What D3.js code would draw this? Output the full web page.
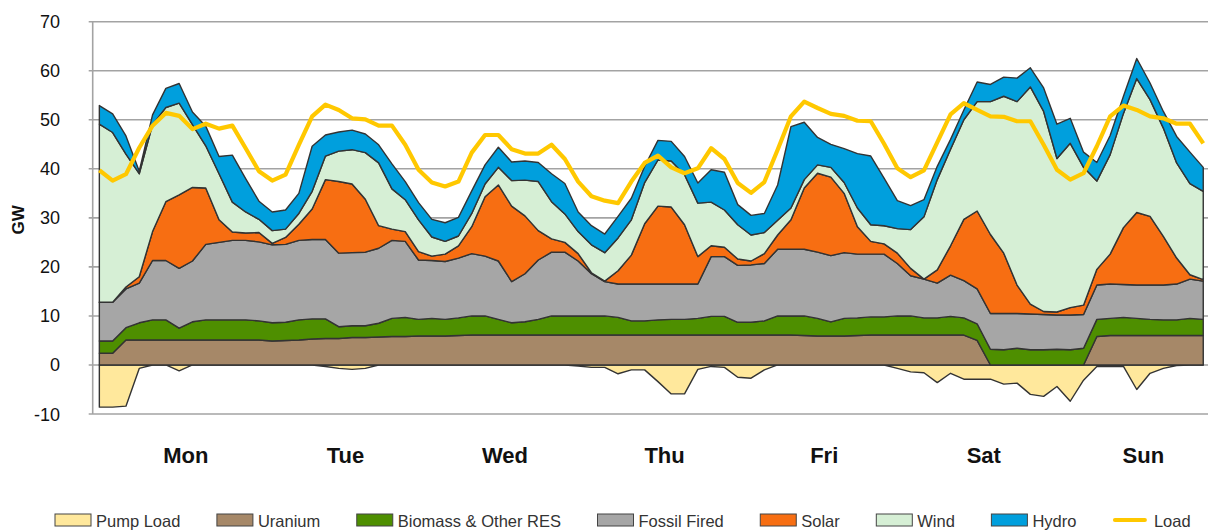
<!DOCTYPE html>
<html><head><meta charset="utf-8">
<script src="https://cdn.jsdelivr.net/npm/d3@7"></script>
<style>body{margin:0;background:#fff}svg{display:block}</style>
</head><body><svg id="c" width="1208" height="530"></svg>
<script>
// ---- data (GW, 2-hour steps, Mon..Sun) ----
const days = ["Mon","Tue","Wed","Thu","Fri","Sat","Sun"];
const yTicks = [-10,0,10,20,30,40,50,60,70];
const pumpLoad = [-8.6,-8.6,-8.4,-0.7,0,0,-1.2,0,0,0,
  0,0,0,0,0,0,0,-0.3,-0.7,-0.9,
  -0.7,0,0,0,0,0,0,0,0,0,
  0,0,0,0,0,0,-0.2,-0.5,-0.5,-1.8,
  -1.0,-1.0,-3.4,-5.9,-5.9,-0.9,-0.3,-0.5,-2.5,-2.7,
  -1.0,0,0,0,0,0,0,0,0,0,
  -0.7,-1.4,-1.6,-3.6,-1.7,-2.9,-2.9,-2.9,-3.9,-3.7,
  -6.0,-6.4,-4.4,-7.4,-3.1,-0.3,-0.3,-0.3,-5.0,-1.7,
  -0.7,-0.1,0,0];
const uranium = [2.4,2.4,5.1,5.1,5.1,5.1,5.1,5.1,5.1,5.1,
  5.1,5.1,5.1,4.9,5.0,5.1,5.3,5.4,5.4,5.6,
  5.6,5.7,5.8,5.8,5.9,5.9,5.9,6.0,6.1,6.1,
  6.1,6.1,6.1,6.1,6.1,6.1,6.1,6.1,6.1,6.1,
  6.1,6.1,6.1,6.1,6.1,6.1,6.1,6.1,6.1,6.1,
  6.1,6.1,6.1,6.0,5.9,5.9,5.9,6.0,6.1,6.1,
  6.1,6.1,6.1,6.1,6.1,6.1,5.0,0,0,0,
  0,0,0,0,0,5.8,6.0,6.0,6.0,6.0,
  6.0,6.0,6.0,6.0];
const biomass = [2.5,2.5,2.5,3.5,4.1,4.1,2.4,3.7,4.1,4.1,
  4.1,4.1,3.9,3.7,3.7,4.1,4.1,4.0,2.4,2.4,
  2.4,2.8,3.7,3.9,3.4,3.6,3.4,3.6,3.9,3.9,
  3.2,2.5,2.7,3.2,3.9,3.9,3.9,3.9,3.9,3.6,
  2.9,2.9,3.1,3.2,3.2,3.4,3.8,3.8,2.6,2.6,
  2.9,3.9,3.9,4.0,3.6,2.9,3.6,3.6,3.7,3.7,
  3.9,3.9,3.5,3.5,3.8,3.5,3.4,3.2,3.1,3.4,
  3.1,3.1,3.2,3.1,3.4,3.5,3.5,3.7,3.5,3.3,
  3.2,3.2,3.5,3.3];
const fossil = [7.9,7.9,7.9,8.1,12.1,12.1,12.2,12.4,15.4,15.8,
  16.2,16.2,16.1,15.9,15.9,16.2,16.2,16.2,15.0,14.9,
  15.0,15.3,15.9,15.5,12.1,11.8,11.8,12.2,12.7,12.2,
  11.9,8.4,9.8,12.1,13.0,13.0,11.2,8.6,7.0,6.8,
  7.5,7.5,7.3,7.2,7.2,7.0,12.2,12.2,11.6,11.7,
  11.7,13.6,13.6,13.6,13.5,13.5,13.4,13.0,12.8,12.8,
  10.7,8.2,7.9,7.1,8.4,7.6,7.1,7.3,7.4,7.1,
  7.3,7.2,7.0,7.1,6.9,7.0,7.0,6.7,6.8,7.0,
  7.1,7.3,8.0,7.8];
const solar = [0,0,0.4,1.3,5.9,12.0,15.0,15.0,11.5,4.6,
  1.7,1.5,1.9,0.3,1.4,3.3,6.2,12.2,14.6,14.0,
  10.8,4.6,2.3,2.0,1.7,0.9,1.5,2.5,5.5,12.1,
  15.5,15.4,11.8,6.0,2.7,2.0,1.5,0.2,0.1,2.7,
  5.9,12.3,15.9,15.7,12.1,5.6,2.2,1.9,1.3,0.8,
  2.0,2.9,6.0,12.5,16.1,16.0,12.1,5.6,2.6,2.1,
  2.1,1.5,0,2.7,6.0,12.5,15.9,16.1,12.3,5.8,
  2.0,0.6,0.6,1.5,1.9,3.2,6.1,11.6,14.8,14.0,
  9.9,5.3,0.9,0.3];
const wind = [36.3,34.6,27.1,21.0,21.8,19.2,18.7,12.8,8.6,9.4,
  6.1,4.3,2.7,2.6,1.7,2.2,3.6,4.8,6.2,7.0,
  9.5,12.8,8.2,6.5,6.5,3.9,2.6,2.0,2.7,2.6,
  3.6,5.2,7.3,10.0,7.6,5.8,4.5,5.7,5.8,6.7,
  7.2,8.4,9.4,9.4,10.2,10.9,8.9,7.6,7.0,5.3,
  4.3,3.0,2.4,1.7,1.7,2.0,2.2,3.8,3.4,3.7,
  5.0,7.9,12.7,18.4,19.7,20.3,22.3,27.1,32.0,37.4,
  44.3,40.8,31.3,33.5,28.1,18.0,20.3,23.3,27.3,23.8,
  22.1,19.4,18.6,18.0];
const hydro = [3.8,3.8,3.7,0.5,2.0,3.9,4.0,2.6,4.0,3.5,
  9.6,6.8,3.7,3.8,3.9,4.1,9.2,4.3,3.9,4.0,
  3.8,3.7,5.1,3.7,3.5,3.6,3.8,3.8,4.6,3.9,
  4.1,3.8,3.9,3.9,5.7,6.2,4.0,3.9,3.8,4.4,
  4.4,3.3,4.0,4.0,3.7,4.1,6.6,7.7,4.1,4.0,
  3.9,7.2,16.6,11.7,5.6,4.7,6.9,11.1,14.0,9.7,
  5.7,4.9,3.5,2.7,2.0,2.0,4.0,3.5,3.9,4.8,
  3.9,4.8,7.0,5.1,3.1,3.8,3.9,3.5,4.1,3.4,
  3.4,5.4,6.4,4.9];
const load = [39.7,37.6,38.9,44.3,48.8,51.4,50.8,48.1,49.2,48.2,
  48.8,44.2,39.5,37.6,38.8,44.9,50.7,53.1,52.0,50.3,
  50.1,48.8,48.8,44.9,39.8,37.2,36.4,37.4,43.3,46.9,
  46.9,44.0,43.1,43.1,44.9,42.0,37.4,34.4,33.5,33.0,
  37.4,41.2,42.7,40.3,39.1,40.1,44.2,42.0,37.1,35.1,
  37.3,43.9,50.7,53.7,52.4,51.2,50.8,49.8,49.7,45.1,
  40.1,38.3,39.7,45.4,51.1,53.4,52.0,50.7,50.6,49.7,
  49.7,44.9,39.8,37.8,39.1,44.6,50.7,52.9,52.0,50.7,
  50.3,49.2,49.2,45.2];

const seriesNames = ["Pump Load","Uranium","Biomass & Other RES","Fossil Fired","Solar","Wind","Hydro"];
const seriesValues = [pumpLoad, uranium, biomass, fossil, solar, wind, hydro];
const colors = ["#FFE89C","#A68868","#4E8F00","#A6A6A6","#F76E12","#D6EFD5","#009FDD"];
const loadColor = "#FFC800";

// ---- layout ----
const svg = d3.select("#c");
const plotLeft = 92.7, plotTop = 21.7, plotBottom = 414;
const n = load.length;
const step = 13.3;
const x = d3.scaleLinear().domain([-0.5, n - 0.5]).range([plotLeft, plotLeft + step * n]);
const y = d3.scaleLinear().domain([-10, 70]).range([plotBottom, plotTop]);

// gridlines
svg.append("g").selectAll("line").data(yTicks).join("line")
  .attr("x1", plotLeft - 4).attr("x2", 1208)
  .attr("y1", d => y(d)).attr("y2", d => y(d))
  .attr("stroke", "#a3a3a3").attr("stroke-width", 1.6);
svg.append("line").attr("x1", plotLeft).attr("x2", plotLeft).attr("y1", plotTop).attr("y2", plotBottom)
  .attr("stroke", "#a3a3a3").attr("stroke-width", 1.6);

// y tick labels
svg.append("g").selectAll("text").data(yTicks).join("text")
  .attr("x", 60).attr("y", d => y(d) + 6.5)
  .attr("text-anchor", "end")
  .attr("font-family", "Liberation Sans, Arial, sans-serif")
  .attr("font-size", 18).attr("fill", "#111")
  .text(d => d);

// y title
svg.append("text").attr("transform", `translate(24,${(plotTop + plotBottom) / 2 + 2}) rotate(-90)`)
  .attr("text-anchor", "middle")
  .attr("font-family", "Liberation Sans, Arial, sans-serif")
  .attr("font-weight", "bold").attr("font-size", 17).attr("fill", "#111")
  .text("GW");

// stacked areas: pump load below zero, generation stacked above zero
const rows = d3.range(n).map(i => {
  const r = {i};
  seriesNames.forEach((k, j) => r[k] = seriesValues[j][i]);
  return r;
});
const posKeys = seriesNames.slice(1);
const stacked = d3.stack().keys(posKeys)(rows);
const area = d3.area().x(d => x(d.data.i)).y0(d => y(d[0])).y1(d => y(d[1]));
const pumpArea = d3.area().x(d => x(d.i)).y0(y(0)).y1(d => y(d["Pump Load"]));
const gA = svg.append("g");
gA.append("path").datum(rows).attr("d", pumpArea)
  .attr("fill", colors[0]).attr("stroke", "#333").attr("stroke-width", 1.4).attr("stroke-linejoin", "round");
gA.selectAll("path.s").data(stacked).join("path").attr("class", "s")
  .attr("d", area)
  .attr("fill", (d, j) => colors[j + 1])
  .attr("stroke", "#333").attr("stroke-width", 1.4).attr("stroke-linejoin", "round");

// load line
const line = d3.line().x((d, i) => x(i)).y(d => y(d));
svg.append("path").datum(load).attr("d", line)
  .attr("fill", "none").attr("stroke", loadColor).attr("stroke-width", 4.2)
  .attr("stroke-linejoin", "round");

// day labels
svg.append("g").selectAll("text").data(days).join("text")
  .attr("x", (d, k) => x(12 * k + 6.5)).attr("y", 463)
  .attr("text-anchor", "middle")
  .attr("font-family", "Liberation Sans, Arial, sans-serif")
  .attr("font-weight", "bold").attr("font-size", 22).attr("fill", "#111")
  .text(d => d);

// legend
const legendItems = seriesNames.map((s, j) => ({name: s, color: colors[j], type: "rect"}))
  .concat([{name: "Load", color: loadColor, type: "line"}]);
const lg = svg.append("g");
const items = lg.selectAll("g").data(legendItems).join("g");
items.append("text")
  .attr("font-family", "Liberation Sans, Arial, sans-serif")
  .attr("font-size", 16.5).attr("fill", "#333")
  .attr("y", 527).text(d => d.name);
let cx = 0;
const pos = [];
items.each(function(d) {
  const w = d3.select(this).select("text").node().getComputedTextLength();
  pos.push(cx);
  cx += 36 + 5 + w + 36.5;
});
const start = 55;
items.each(function(d, j) {
  const g = d3.select(this);
  const x0 = start + pos[j];
  g.select("text").attr("x", x0 + 41);
  if (d.type === "rect") {
    g.insert("rect", "text").attr("x", x0).attr("y", 514).attr("width", 36).attr("height", 12)
      .attr("fill", d.color).attr("stroke", "#444").attr("stroke-width", 1);
  } else {
    g.insert("line", "text").attr("x1", x0 + 2).attr("x2", x0 + 32).attr("y1", 520).attr("y2", 520)
      .attr("stroke", d.color).attr("stroke-width", 4).attr("stroke-linecap", "round");
  }
});
</script></body></html>
